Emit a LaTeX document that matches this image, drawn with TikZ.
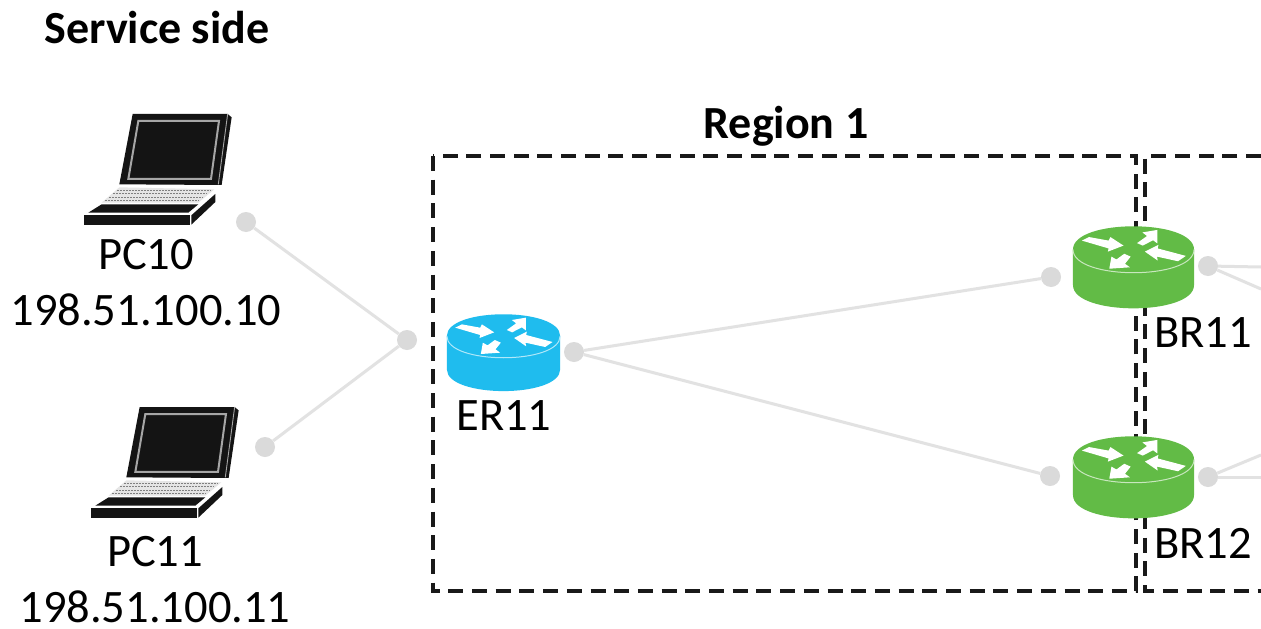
\documentclass[tikz,border=0pt]{standalone}
\usepackage{fontspec}
\setmainfont{Carlito}
\usetikzlibrary{positioning}

\definecolor{erblue}{HTML}{1FBCEE}
\definecolor{brgreen}{HTML}{62BB46}
\definecolor{linkgray}{HTML}{E2E2E2}
\definecolor{dotgray}{HTML}{DADADA}

\tikzset{
    pics/routericon/.style={code={
        \fill[#1] (-170,0) .. controls (-170,-87) and (170,-87) .. (170,0) -- (170,100) .. controls (170,187) and (-170,187) .. (-170,100) -- cycle;
        \draw[white!65!#1,line width=1pt] (-170,0) .. controls (-170,87) and (170,87) .. (170,0);
        \fill[white] (-145,-25) -- (-125,-35) -- (-70,-25) -- (-65,-35) -- (-28,-11) -- (-72,6) -- (-70,-3) -- cycle;
        \fill[white] (10,-18) -- (38,-38) -- (25,-48) -- (67,-55) -- (67,-17) -- (55,-26) -- (26,-11) -- cycle;
        \fill[white] (-8,20) -- (-24,40) -- (-10,50) -- (-68,54) -- (-62,20) -- (-48,28) -- (-26,12) -- cycle;
        \fill[white] (147,18) -- (125,33) -- (66,20) -- (68,31) -- (32,6) -- (70,-13) -- (68,-3) -- cycle;
    }},
    pics/laptopicon/.style={code={
        % lid
        \fill[black!92] (218,72) -- (503,72) -- (515,82) -- (485,285) -- (178,283) -- cycle;
        \draw[gray!70,line width=.9pt] (503,72) -- (475,283);
        \draw[black!35,line width=2pt] (235,93) -- (477,93) -- (453,267) -- (205,267) -- cycle;
        % keys
        \fill[black!10] (178,292) -- (463,298) -- (415,338) -- (125,338) -- cycle;
        \foreach \keyleft/\keyright/\keyrow in {172/452/302,160/440/312,148/428/322,136/418/332}
            \draw[black!50,line width=1pt,dash pattern=on 2pt off 1pt] (\keyleft,\keyrow) -- (\keyright,\keyrow);
        % base
        \fill[black!92] (125,343) -- (415,343) -- (385,368) -- (85,368) -- cycle;
        \fill[black!92] (72,376) -- (390,376) -- (390,404) -- (72,404) -- cycle;
        \fill[black!92] (394,376) -- (466,312) -- (466,336) -- (394,404) -- cycle;
    }},
    regionbox/.style={draw=black!90,line width=1.2mm,dash pattern=on 15pt off 8.7pt},
    linkdot/.style={circle,fill=dotgray,minimum size=20pt,inner sep=0pt},
    link/.style={draw=linkgray,line width=3pt},
    devlabel/.style={font=\fontsize{46.5}{54}\selectfont,inner sep=0pt},
    titlelabel/.style={font=\fontsize{46}{54}\selectfont\bfseries,inner sep=0pt}
}

\begin{document}
\begin{tikzpicture}[x=1pt,y=-1pt,node distance=55pt,on grid]
    \useasboundingbox (0,0) rectangle (1261,629);
    \fill[white] (0,0) rectangle (1261,629);

    \node[titlelabel] (service) at (157,28) {Service side};
    \node[titlelabel] (region1) at (786,126) {Region 1};

    % region frames
    \draw[regionbox] (433,156) rectangle (1136,591);
    \draw[regionbox] (1261,156) -- (1145,156) -- (1145,591) -- (1261,591);

    % link ends
    \node[linkdot] (pc10dot) at (246,222) {};
    \node[linkdot] (pc11dot) at (265,447) {};
    \node[linkdot] (hub) at (407,340) {};
    \node[linkdot] (erdot) at (574,352) {};
    \node[linkdot] (br11in) at (1051,277) {};
    \node[linkdot] (br12in) at (1050,476) {};
    \node[linkdot] (br11out) at (1208,266) {};
    \node[linkdot] (br12out) at (1208,477) {};
    \coordinate (r2a) at (1261,267);
    \coordinate (r2b) at (1261,289);
    \coordinate (r2c) at (1261,455);
    \coordinate (r2d) at (1261,477);

    \path[link] (pc10dot) -- (hub);
    \path[link] (pc11dot) -- (hub);
    \path[link] (erdot) -- (br11in);
    \path[link] (erdot) -- (br12in);
    \path[link] (br11out) -- (r2a);
    \path[link] (br11out) -- (r2b);
    \path[link] (br12out) -- (r2c);
    \path[link] (br12out) -- (r2d);

    % devices
    \pic[scale=.3333] at (60,90) {laptopicon};
    \pic[scale=.3333] at (67,383) {laptopicon};
    \pic[scale=.3333] at (503.5,336) {routericon=erblue};
    \pic[scale=.356] at (1133.5,249.5) {routericon=brgreen};
    \pic[scale=.356] at (1133.5,459.5) {routericon=brgreen};

    \node[devlabel] (pc10) at (146,255) {PC10};
    \node[devlabel] (pc10ip) [below=of pc10] {198.51.100.10};
    \node[devlabel] (pc11) at (155,552) {PC11};
    \node[devlabel] (pc11ip) [below=of pc11] {198.51.100.11};
    \node[devlabel] (er11) at (504,416) {ER11};
    \node[devlabel] (br11) at (1203,333) {BR11};
    \node[devlabel] (br12) at (1203,543) {BR12};
\end{tikzpicture}
\end{document}
